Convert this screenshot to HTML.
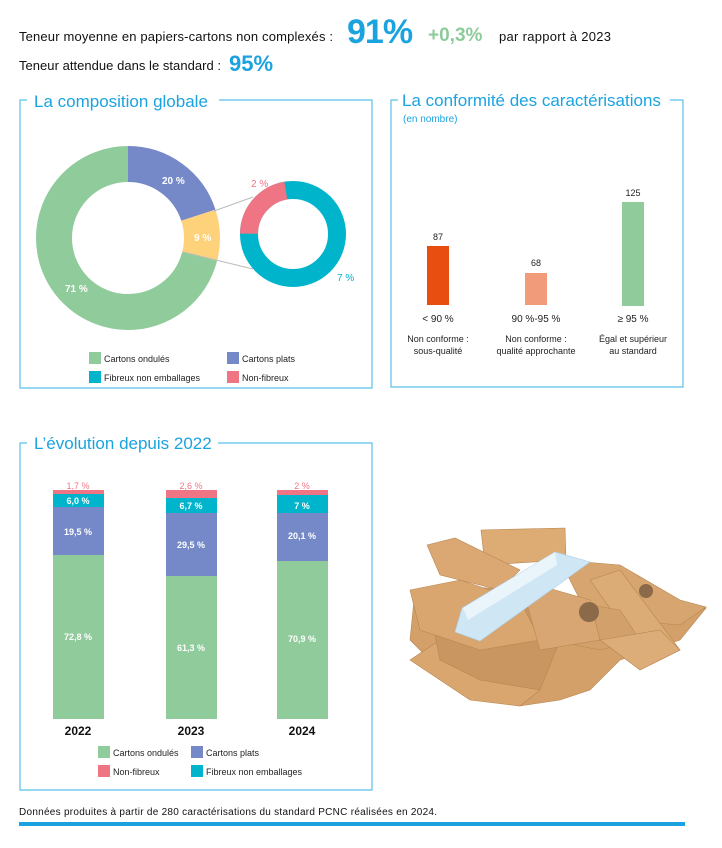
<!DOCTYPE html>
<html><head><meta charset="utf-8"><style>
body{margin:0;background:#fff;}
svg text{font-family:"Liberation Sans",sans-serif;}
</style></head><body>
<svg width="722" height="843" viewBox="0 0 722 843" xmlns="http://www.w3.org/2000/svg">
<!-- header -->
<text x="19" y="41" font-size="13" fill="#111" textLength="314">Teneur moyenne en papiers-cartons non complexés :</text>
<text x="347" y="43" font-size="34" font-weight="bold" fill="#1ba3e0" letter-spacing="-1">91%</text>
<text x="428" y="41" font-size="19" font-weight="bold" fill="#8ecb9a">+0,3%</text>
<text x="499" y="41" font-size="13" fill="#111" textLength="112">par rapport à 2023</text>
<text x="19" y="70" font-size="13" fill="#111" textLength="202">Teneur attendue dans le standard :</text>
<text x="229" y="71" font-size="22" font-weight="bold" fill="#1ba3e0">95%</text>

<!-- composition box -->
<path d="M27 100 H20 V388 H372 V100 H219" fill="none" stroke="#5bc0eb" stroke-width="1.2"/>
<text x="34" y="107" font-size="17" fill="#1ba3e0">La composition globale</text>
<g transform="rotate(-90 128 238)" fill="none" stroke-width="36">
<circle cx="128" cy="238" r="74" stroke="#7589c9" stroke-dasharray="92.99 371.97"/>
<circle cx="128" cy="238" r="74" stroke="#fed27a" stroke-dasharray="41.85 423.11" stroke-dashoffset="-92.99"/>
<circle cx="128" cy="238" r="74" stroke="#8fcb9b" stroke-dasharray="330.12 134.84" stroke-dashoffset="-134.84"/>
</g>
<g transform="rotate(-90 293 234)" fill="none" stroke-width="18">
<circle cx="293" cy="234" r="44" stroke="#00b4cc"/>
<circle cx="293" cy="234" r="44" stroke="#ef7585" stroke-dasharray="61.44 215.02" stroke-dashoffset="-207.35"/>
</g>
<line x1="214" y1="211" x2="253" y2="197" stroke="#bbb" stroke-width="1"/>
<line x1="183" y1="252" x2="253" y2="269" stroke="#bbb" stroke-width="1"/>
<g font-size="10" font-weight="bold" fill="#fff">
<text x="162" y="184">20 %</text><text x="194" y="241">9 %</text><text x="65" y="292">71 %</text>
</g>
<text x="251" y="187" font-size="10" fill="#ef7585">2 %</text>
<text x="337" y="281" font-size="10" fill="#00b4cc">7 %</text>
<g font-size="9" fill="#222">
<rect x="89" y="352" width="12" height="12" fill="#8fcb9b"/><text x="104" y="362">Cartons ondulés</text>
<rect x="227" y="352" width="12" height="12" fill="#7589c9"/><text x="242" y="362">Cartons plats</text>
<rect x="89" y="371" width="12" height="12" fill="#00b4cc"/><text x="104" y="381">Fibreux non emballages</text>
<rect x="227" y="371" width="12" height="12" fill="#ef7585"/><text x="242" y="381">Non-fibreux</text>
</g>

<!-- conformity box -->
<path d="M398 100 H391 V387 H683 V100 H670" fill="none" stroke="#5bc0eb" stroke-width="1.2"/>
<text x="402" y="106" font-size="17" fill="#1ba3e0">La conformité des caractérisations</text>
<text x="403" y="122" font-size="10" fill="#1ba3e0">(en nombre)</text>
<rect x="427" y="246" width="22" height="59" fill="#e84e10"/>
<rect x="525" y="273" width="22" height="32" fill="#f29b7a"/>
<rect x="622" y="202" width="22" height="104" fill="#8fcb9b"/>
<g font-size="9" fill="#222" text-anchor="middle">
<text x="438" y="240">87</text><text x="536" y="266">68</text><text x="633" y="196">125</text>
<text x="438" y="322" font-size="10">&lt; 90 %</text><text x="536" y="322" font-size="10">90 %-95 %</text><text x="633" y="322" font-size="10">≥ 95 %</text>
<text x="438" y="342">Non conforme :</text><text x="438" y="354">sous-qualité</text>
<text x="536" y="342">Non conforme :</text><text x="536" y="354">qualité approchante</text>
<text x="633" y="342">Égal et supérieur</text><text x="633" y="354">au standard</text>
</g>

<!-- evolution box -->
<path d="M27 443 H20 V790 H372 V443 H218" fill="none" stroke="#5bc0eb" stroke-width="1.2"/>
<text x="34" y="449" font-size="17" fill="#1ba3e0">L’évolution depuis 2022</text>
<g>
<rect x="53" y="490" width="51" height="4" fill="#ef7585"/>
<rect x="53" y="494" width="51" height="13" fill="#00b4cc"/>
<rect x="53" y="507" width="51" height="48" fill="#7589c9"/>
<rect x="53" y="555" width="51" height="164" fill="#8fcb9b"/>
<rect x="166" y="490" width="51" height="8" fill="#ef7585"/>
<rect x="166" y="498" width="51" height="15" fill="#00b4cc"/>
<rect x="166" y="513" width="51" height="63" fill="#7589c9"/>
<rect x="166" y="576" width="51" height="143" fill="#8fcb9b"/>
<rect x="277" y="490" width="51" height="5" fill="#ef7585"/>
<rect x="277" y="495" width="51" height="18" fill="#00b4cc"/>
<rect x="277" y="513" width="51" height="48" fill="#7589c9"/>
<rect x="277" y="561" width="51" height="158" fill="#8fcb9b"/>
</g>
<g font-size="9" fill="#ef7585" text-anchor="middle">
<text x="78" y="489">1,7 %</text><text x="191" y="489">2,6 %</text><text x="302" y="489">2 %</text>
</g>
<g font-size="9" font-weight="bold" fill="#fff" text-anchor="middle">
<text x="78" y="504">6,0 %</text><text x="78" y="535">19,5 %</text><text x="78" y="640">72,8 %</text>
<text x="191" y="509">6,7 %</text><text x="191" y="548">29,5 %</text><text x="191" y="651">61,3 %</text>
<text x="302" y="509">7 %</text><text x="302" y="539">20,1 %</text><text x="302" y="642">70,9 %</text>
</g>
<g font-size="12" font-weight="bold" fill="#111" text-anchor="middle">
<text x="78" y="735">2022</text><text x="191" y="735">2023</text><text x="302" y="735">2024</text>
</g>
<g font-size="9" fill="#222">
<rect x="98" y="746" width="12" height="12" fill="#8fcb9b"/><text x="113" y="756">Cartons ondulés</text>
<rect x="191" y="746" width="12" height="12" fill="#7589c9"/><text x="206" y="756">Cartons plats</text>
<rect x="98" y="765" width="12" height="12" fill="#ef7585"/><text x="113" y="775">Non-fibreux</text>
<rect x="191" y="765" width="12" height="12" fill="#00b4cc"/><text x="206" y="775">Fibreux non emballages</text>
</g>

<!-- cardboard pile -->
<g stroke="#b98650" stroke-width="0.6">
<polygon points="414,600 440,585 520,590 600,600 640,610 690,612 706,608 680,640 620,660 590,690 560,700 520,706 470,690 430,660 410,640" fill="#d4a06a"/>
<polygon points="410,660 440,640 500,650 540,690 520,706 470,700" fill="#d9a670"/>
<polygon points="430,610 520,600 560,640 540,690 480,680 440,660" fill="#c99560"/>
<polygon points="481,530 565,528 566,560 485,565" fill="#dcac74"/>
<polygon points="427,545 455,538 520,570 500,590 440,575" fill="#dba773"/>
<polygon points="410,590 460,580 520,600 540,640 480,650 420,630" fill="#d9a670"/>
<polygon points="560,560 620,565 680,600 706,607 680,625 620,620 580,600" fill="#d7a56f"/>
<polygon points="590,580 620,570 680,650 650,665" fill="#dcac76"/>
<polygon points="560,600 620,610 640,640 600,650 550,640" fill="#d2a06b"/>
<polygon points="520,580 590,600 600,640 540,650" fill="#d8a672"/>
<polygon points="600,640 660,630 680,650 640,670" fill="#dcad78"/>
</g>
<circle cx="589" cy="612" r="10" fill="#8a6a48"/>
<circle cx="646" cy="591" r="7" fill="#8a6a48"/>
<polygon points="462,608 555,552 590,562 480,641 455,632" fill="#cfe6f5" stroke="#a9cfe9" stroke-width="0.6"/>
<polygon points="463,608 555,552 557,565 468,620" fill="#eaf4fb"/>

<!-- footer -->
<text x="19" y="815" font-size="10" fill="#111" textLength="418">Données produites à partir de 280 caractérisations du standard PCNC  réalisées en 2024.</text>
<rect x="19" y="822" width="666" height="4" fill="#1ba3e0"/>
</svg>
</body></html>
